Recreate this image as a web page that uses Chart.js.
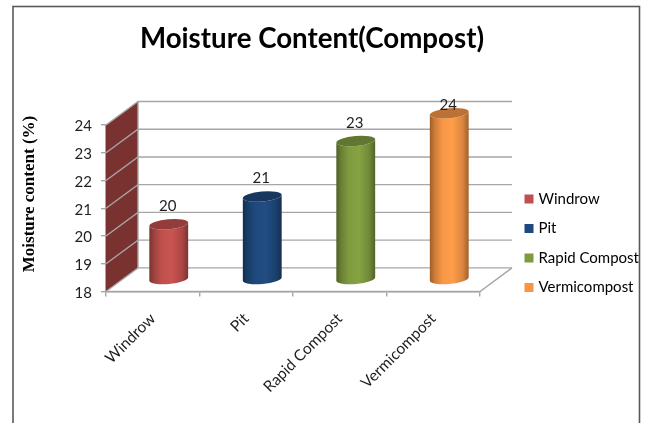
<!DOCTYPE html>
<html><head><meta charset="utf-8">
<style>html,body{margin:0;padding:0;background:#fff;overflow:hidden}canvas{display:block}</style>
<script src="https://cdn.jsdelivr.net/npm/chart.js@4"></script>
</head><body>
<div style="width:647px;height:423px;position:relative"><canvas id="c" width="647" height="423"></canvas></div>
<script>
const titleText = 'Moisture Content(Compost)';
const axisTitle = 'Moisture content (%)';
const categories = ['Windrow', 'Pit', 'Rapid Compost', 'Vermicompost'];
const moisture = [20, 21, 23, 24];
const barColors = ['#C0504D', '#1F497D', '#7F9B3F', '#F79646'];
const wallColor = '#7A3230';
const gridColor = '#A6A6A6';
const textColor = '#1F1F1F';
const uiFont = 'Lato';
const DX = 32, DY = -23.6;

function shade(hex, f) {
  const n = parseInt(hex.slice(1), 16);
  const ch = s => Math.min(255, Math.round(((n >> s) & 255) * f));
  return `rgb(${ch(16)},${ch(8)},${ch(0)})`;
}

// Bars are drawn as 3D cylinders from the library's own element geometry.
Chart.BarElement.prototype.draw = function (ctx) {
  const {x, y, base, width} = this.getProps(['x', 'y', 'base', 'width']);
  const col = this.options.backgroundColor;
  const cx = x + DX / 2, top = y + DY / 2, bot = base + DY / 2;
  const rx = width / 2, ry = 5, rot = -0.09;
  const g = ctx.createLinearGradient(cx - rx, 0, cx + rx, 0);
  g.addColorStop(0, shade(col, 0.62));
  g.addColorStop(0.12, shade(col, 0.82));
  g.addColorStop(0.32, shade(col, 1.0));
  g.addColorStop(0.58, shade(col, 1.05));
  g.addColorStop(0.85, shade(col, 0.88));
  g.addColorStop(1, shade(col, 0.64));
  ctx.save();
  ctx.beginPath();
  ctx.ellipse(cx, bot, rx, ry, rot, 0, Math.PI);
  ctx.ellipse(cx, top, rx, ry, rot, Math.PI, 0, true);
  ctx.closePath();
  ctx.fillStyle = g;
  ctx.fill();
  ctx.beginPath();
  ctx.ellipse(cx, top, rx, ry, rot, 0, Math.PI * 2);
  ctx.fillStyle = shade(col, 0.76);
  ctx.fill();
  ctx.restore();
};

const scene = {
  id: 'scene',
  beforeLayout(chart) {
    const lg = chart.legend;
    if (lg && !lg._fixed) {
      const fit = lg.fit;
      lg.fit = function () { fit.call(this); this.width = 167; };
      lg._fixed = true;
    }
  },
  afterLayout(chart) {
    const lg = chart.legend;
    const pad = lg.options.labels.padding;
    lg.left = 527 - pad;
    lg.top = 191.5 - pad;
    lg.bottom = lg.top + 140;
    lg.adjustHitBoxes();
    chart.titleBlock.left = 0;
    chart.titleBlock.right = 624;
  },
  beforeDraw(chart) {
    const c = chart.ctx;
    c.save();
    c.fillStyle = '#fff';
    c.fillRect(0, 0, chart.width, chart.height);
    c.strokeStyle = '#595959';
    c.lineWidth = 1.6;
    c.strokeRect(13, 6.5, 626.5, 600);
    c.restore();
  },
  beforeDatasetsDraw(chart) {
    const c = chart.ctx, ys = chart.scales.y, a = chart.chartArea;
    const yTop = ys.getPixelForValue(ys.max), yBot = ys.getPixelForValue(ys.min);
    c.save();
    c.fillStyle = wallColor;
    c.beginPath();
    c.moveTo(a.left, yTop);
    c.lineTo(a.left + DX, yTop + DY);
    c.lineTo(a.left + DX, yBot + DY);
    c.lineTo(a.left, yBot);
    c.closePath();
    c.fill();
    c.strokeStyle = gridColor;
    c.lineWidth = 1.4;
    ys.ticks.forEach(t => {
      const py = ys.getPixelForValue(t.value);
      c.beginPath();
      c.moveTo(a.left, py);
      c.lineTo(a.left + DX, py + DY);
      c.lineTo(a.right + DX, py + DY);
      c.stroke();
    });
    c.beginPath();
    c.moveTo(a.left + DX, yTop + DY);
    c.lineTo(a.left + DX, yBot + DY);
    c.moveTo(a.left, yBot);
    c.lineTo(a.right, yBot);
    c.lineTo(a.right + DX, yBot + DY);
    c.stroke();
    c.restore();
  },
  afterDatasetsDraw(chart) {
    const c = chart.ctx, meta = chart.getDatasetMeta(0);
    c.save();
    c.font = '15px ' + uiFont;
    c.fillStyle = textColor;
    c.textAlign = 'center';
    c.textBaseline = 'middle';
    meta.data.forEach((el, i) => {
      const ly = Math.max(el.y + DY / 2 - 18, 105);
      c.fillText(String(moisture[i]), el.x + DX / 2 - 1, ly);
    });
    c.translate(30, 194);
    c.rotate(-Math.PI / 2);
    c.font = 'bold 17px "Liberation Serif"';
    c.fillStyle = '#000';
    c.fillText(axisTitle, 0, 0);
    c.restore();
  }
};

new Chart(document.getElementById('c'), {
  type: 'bar',
  data: {
    labels: categories,
    datasets: [{
      data: moisture,
      base: 18,
      backgroundColor: barColors,
      barPercentage: 1,
      categoryPercentage: 0.417,
      clip: false
    }]
  },
  plugins: [scene],
  options: {
    responsive: false,
    animation: false,
    events: [],
    layout: {autoPadding: false, padding: 0},
    plugins: {
      tooltip: {enabled: false},
      title: {
        display: true,
        text: titleText,
        color: '#000',
        font: {family: uiFont, size: 27.7, weight: 'bold', lineHeight: 1.2},
        padding: {top: 22, bottom: 69.8}
      },
      legend: {
        display: true,
        position: 'right',
        align: 'start',
        labels: {
          boxWidth: 4,
          boxHeight: 4,
          padding: 14.5,
          color: textColor,
          font: {family: uiFont, size: 15},
          generateLabels: () => categories.map((name, i) => ({
            text: name,
            fillStyle: barColors[i],
            strokeStyle: barColors[i],
            lineWidth: 5,
            index: i
          }))
        }
      }
    },
    scales: {
      x: {
        afterFit(s) { s.height = 131.5; },
        border: {color: gridColor, width: 1.4},
        grid: {drawOnChartArea: false, color: gridColor, lineWidth: 1.4, tickLength: 5},
        ticks: {
          color: textColor,
          font: {family: uiFont, size: 15.5},
          minRotation: 45,
          maxRotation: 45,
          autoSkip: false,
          padding: 13
        }
      },
      y: {
        min: 18,
        max: 24,
        afterFit(s) { s.width = 106; },
        border: {color: gridColor, width: 1.4},
        grid: {drawOnChartArea: false, color: gridColor, lineWidth: 1.4, tickLength: 5},
        ticks: {
          stepSize: 1,
          color: textColor,
          font: {family: uiFont, size: 15},
          padding: 9,
          labelOffset: 1.5
        }
      }
    }
  }
});
</script>
</body></html>
